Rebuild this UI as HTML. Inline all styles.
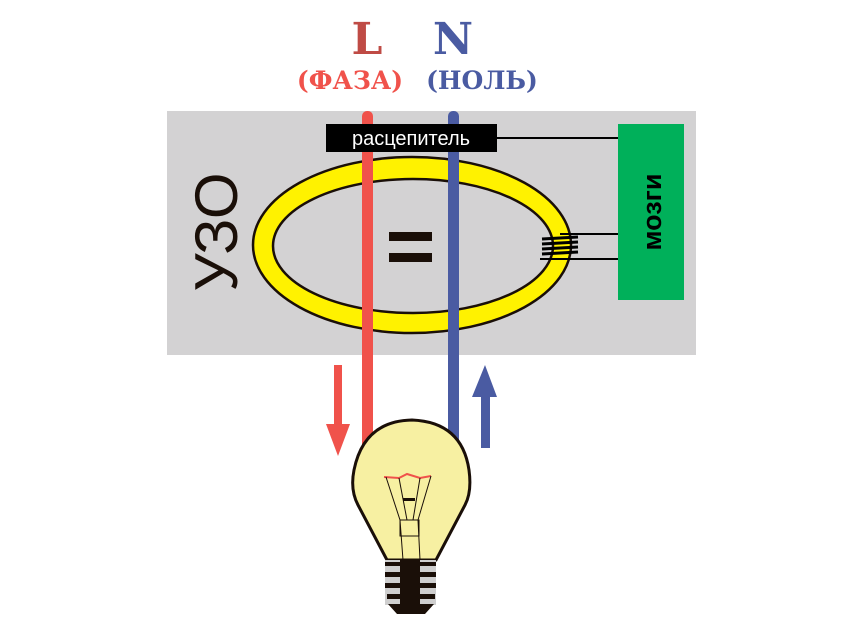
<!DOCTYPE html>
<html><head><meta charset="utf-8"><style>
body{margin:0;background:#fff;}
</style></head><body>
<svg width="864" height="622" viewBox="0 0 864 622" xmlns="http://www.w3.org/2000/svg" style="display:block">
<text x="367" y="54" text-anchor="middle" font-family="DejaVu Serif, serif" font-weight="bold" font-size="44" fill="#bf4b45">L</text>
<text x="453" y="54" text-anchor="middle" font-family="DejaVu Serif, serif" font-weight="bold" font-size="44" fill="#4a5ba2">N</text>
<text x="350" y="89" text-anchor="middle" font-family="DejaVu Serif, serif" font-weight="bold" font-size="25" fill="#f0524b">(ФАЗА)</text>
<text x="482" y="89" text-anchor="middle" font-family="DejaVu Serif, serif" font-weight="bold" font-size="25" fill="#4a5ba2">(НОЛЬ)</text>
<rect x="167" y="111" width="529" height="244" fill="#d3d2d3"/>
<rect x="618" y="124" width="66" height="176" fill="#00b05a"/>
<text transform="translate(661,212) rotate(-90)" text-anchor="middle" font-family="Liberation Sans, sans-serif" font-weight="bold" font-size="27" fill="#000">мозги</text>
<text transform="translate(237,232) rotate(-90)" text-anchor="middle" font-family="Liberation Sans, sans-serif" font-size="60" fill="#1a0f08">УЗО</text>
<path fill-rule="evenodd" fill="#fff200" stroke="#1a0f08" stroke-width="2.5" d="M253,245 a159,88 0 1,0 318,0 a159,88 0 1,0 -318,0 Z M273,246 a140,67 0 1,0 280,0 a140,67 0 1,0 -280,0 Z"/>
<rect x="389" y="232" width="43" height="9" fill="#1a0f08"/>
<rect x="389" y="253" width="43" height="9" fill="#1a0f08"/>
<line x1="560" y1="234" x2="618" y2="234" stroke="#000" stroke-width="2"/>
<line x1="540" y1="259" x2="618" y2="259" stroke="#000" stroke-width="2"/>
<g stroke="#000" stroke-width="3">
<line x1="542" y1="239" x2="578" y2="237"/><line x1="542" y1="244" x2="578" y2="242"/><line x1="542" y1="249" x2="578" y2="247"/><line x1="542" y1="254" x2="578" y2="252"/>
</g>
<line x1="497" y1="138" x2="618" y2="138" stroke="#000" stroke-width="2"/>
<rect x="362" y="111" width="11" height="340" rx="5" fill="#f0524b"/>
<rect x="448" y="111" width="11" height="335" rx="5" fill="#4a5ba2"/>
<rect x="326" y="124" width="171" height="28" fill="#000"/>
<text x="411" y="145" text-anchor="middle" font-family="Liberation Sans, sans-serif" font-size="20" fill="#fff">расцепитель</text>
<rect x="334" y="365" width="8" height="60" fill="#f0524b"/>
<polygon points="326,424 350,424 338,456" fill="#f0524b"/>
<rect x="481" y="396" width="9" height="52" fill="#4a5ba2"/>
<polygon points="472,397 497,397 485,365" fill="#4a5ba2"/>
<path d="M387,560 L358,505 Q350,490 354,470 Q364,421 412,420 Q462,422 469,470 Q472,492 465,505 L436,560 Z" fill="#f7f0a2" stroke="#1a0f08" stroke-width="3"/>
<path d="M384,477 L399,478 L407,474 L420,478 L431,476" fill="none" stroke="#f0524b" stroke-width="2"/>
<g stroke="#1a0f08" stroke-width="1" fill="none">
<path d="M386,477 L400,520 L403,560"/><path d="M431,476 L418,520 L420,560"/>
<path d="M399,478 L407,520"/><path d="M420,478 L413,520"/>
<rect x="400" y="520" width="19" height="16"/>
</g>
<rect x="403" y="498" width="12" height="3" fill="#1a0f08"/>
<rect x="385" y="560" width="51" height="45" fill="#cfcfcf"/>
<g fill="#1a0f08">
<rect x="385" y="562" width="51" height="4"/><rect x="385" y="572" width="51" height="5"/><rect x="385" y="583" width="51" height="5"/><rect x="387" y="594" width="48" height="5"/>
<rect x="400" y="560" width="20" height="45"/>
<polygon points="388,604 434,604 425,614 397,614"/>
</g>
</svg>
</body></html>
